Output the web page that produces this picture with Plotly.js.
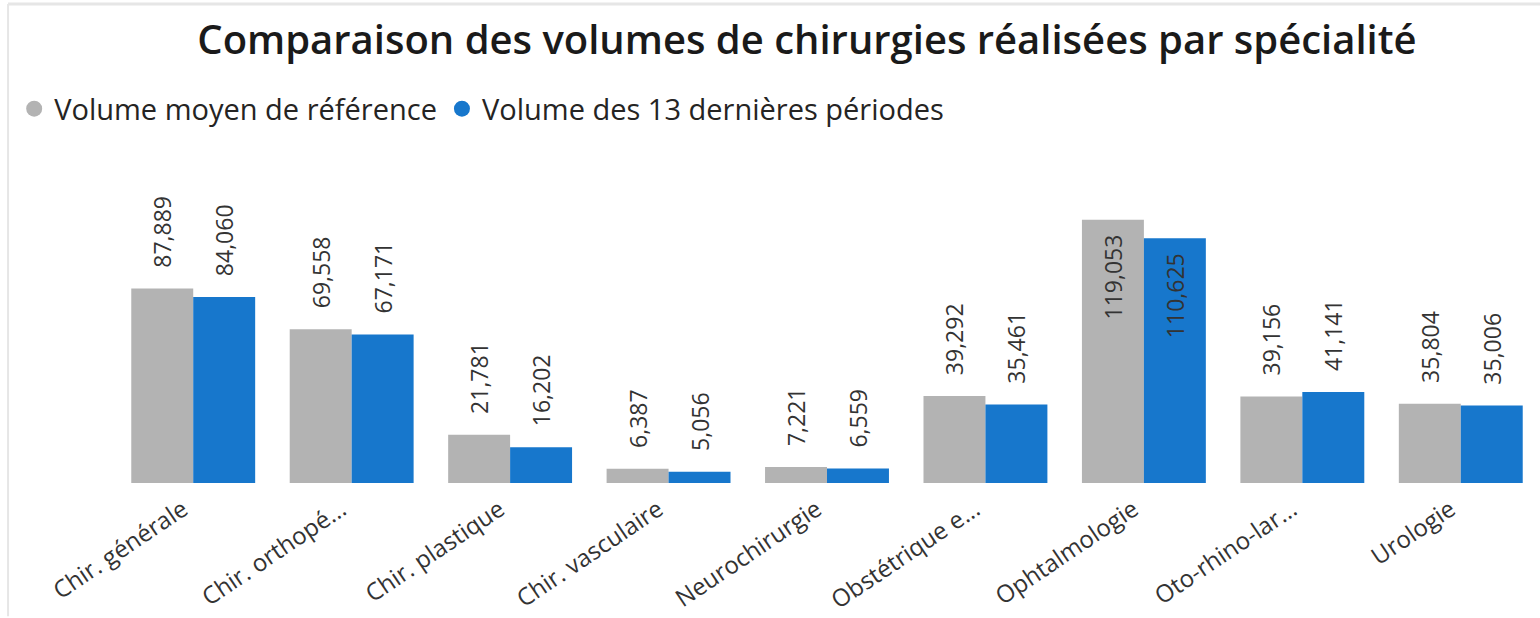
<!DOCTYPE html>
<html>
<head>
<meta charset="utf-8">
<script src="https://cdn.plot.ly/plotly-3.0.1.min.js"></script>
<style>html,body{margin:0;padding:0;background:#fff;}#chart{width:1540px;height:618px;}</style>
</head>
<body>
<div id="chart"></div>
<script>
const categories = ["Chir. générale","Chir. orthopé...","Chir. plastique","Chir. vasculaire","Neurochirurgie","Obstétrique e...","Ophtalmologie","Oto-rhino-lar...","Urologie"];
const seriesNames = ["Volume moyen de référence","Volume des 13 dernières périodes"];
const referenceVolume = [87889,69558,21781,6387,7221,39292,119053,39156,35804];
const recentVolume = [84060,67171,16202,5056,6559,35461,110625,41141,35006];
const colors = ["#B3B3B3","#1777CC"];

const FONT = "Open Sans, Noto Sans, sans-serif";
const fmt = v => v.toLocaleString("en-US");
const insideThreshold = 100000;

function barTrace(values, name, color) {
  return {
    type: "bar", x: categories, y: values, name: name,
    marker: {color: color},
    showlegend: false,
    text: values.map(v => v >= insideThreshold ? fmt(v) + "\u00a0\u00a0" : "\u00a0\u00a0\u00a0" + fmt(v)),
    textposition: values.map(v => v >= insideThreshold ? "inside" : "outside"),
    insidetextanchor: "end",
    constraintext: "none",
    textangle: -90,
    textfont: {family: FONT, size: 23, color: "#333333"},
    insidetextfont: {family: FONT, size: 23, color: "#333333"},
    outsidetextfont: {family: FONT, size: 23, color: "#333333"},
    cliponaxis: false,
    hoverinfo: "x+y"
  };
}
function legendTrace(name, color) {
  return {type: "scatter", mode: "markers", x: [null], y: [null], name: name,
    marker: {symbol: "circle", size: 19, color: color}, hoverinfo: "skip"};
}

const data = [
  barTrace(referenceVolume, seriesNames[0], colors[0]),
  barTrace(recentVolume, seriesNames[1], colors[1]),
  legendTrace(seriesNames[0], colors[0]),
  legendTrace(seriesNames[1], colors[1])
];

const layout = {
  width: 1540, height: 618,
  paper_bgcolor: "#ffffff", plot_bgcolor: "#ffffff",
  margin: {l: 114, r: 0, t: 180, b: 135},
  font: {family: FONT, color: "#252423"},
  title: {text: "Comparaison des volumes de chirurgies réalisées par spécialité",
    font: {family: FONT, size: 40, color: "#1a1a1a", weight: 600},
    x: 0.524, xanchor: "center", xref: "container", y: 0.935, yanchor: "middle", yref: "container"},
  barmode: "group", bargap: 0.218, bargroupgap: 0,
  showlegend: true,
  legend: {orientation: "h", x: -0.07, xanchor: "left", y: 1.235, yanchor: "middle",
    font: {family: FONT, size: 29, color: "#252423"}, itemwidth: 30, tracegroupgap: 0},
  xaxis: {type: "category", tickangle: -34, showline: false, showgrid: false, ticks: "",
    tickvals: categories, ticktext: categories.map(c => c + "\u00a0\u00a0"),
    ticklabelstandoff: 0,
    tickfont: {family: FONT, size: 24, color: "#333333"}, automargin: false},
  yaxis: {range: [0, 137000], visible: false, showgrid: false, zeroline: false},
  shapes: [
    {type: "line", xref: "paper", yref: "paper", x0: -0.0743, x1: 1.0, y0: 1.5809, y1: 1.5809, line: {color: "#E6E6E6", width: 3}},
    {type: "line", xref: "paper", yref: "paper", x0: -0.0743, x1: -0.0743, y0: -0.44, y1: 1.5809, line: {color: "#E6E6E6", width: 2}}
  ]
};

Plotly.newPlot("chart", data, layout, {displayModeBar: false, responsive: false});
</script>
</body>
</html>
